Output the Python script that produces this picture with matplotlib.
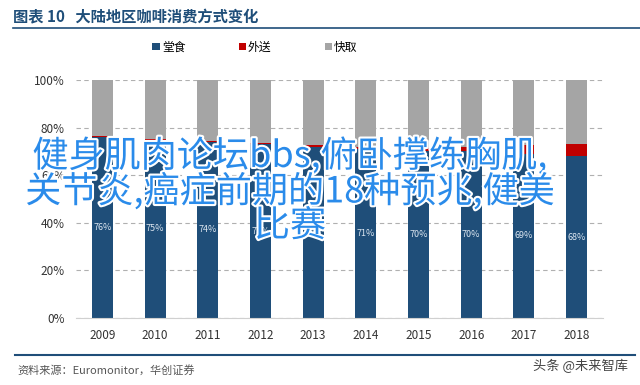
import matplotlib.pyplot as plt
import matplotlib.patheffects as pe
import numpy as np

plt.rcParams['font.family'] = ['Noto Sans CJK SC', 'DejaVu Sans']

years = ["2009", "2010", "2011", "2012", "2013", "2014", "2015", "2016", "2017", "2018"]
dine_in = [76, 75, 74, 73, 72, 71, 70, 70, 69, 68]
delivery = [0.3, 0.3, 0.4, 0.5, 0.8, 1.0, 1.5, 2.0, 3.5, 5.0]
takeaway = [100 - a - b for a, b in zip(dine_in, delivery)]
labels = ["76%", "75%", "74%", "73%", "72%", "71%", "70%", "70%", "69%", "68%"]

c_dine = "#1f4e79"
c_deliv = "#c00000"
c_take = "#a5a5a5"

fig = plt.figure(figsize=(6.4, 3.85), dpi=100)
ax = fig.add_axes([76/640, 1 - 318/385, 527/640, 238/385])

x = np.arange(len(years))
d = np.array(dine_in) / 100
dl = np.array(delivery) / 100
t = np.array(takeaway) / 100
ax.bar(x, d, width=0.4, color=c_dine, label="堂食", zorder=2)
ax.bar(x, dl, width=0.4, bottom=d, color=c_deliv, label="外送", zorder=2)
ax.bar(x, t, width=0.4, bottom=d + dl, color=c_take, label="快取", zorder=2)

for xi, v, lab in zip(x, d, labels):
    ax.text(xi, v / 2, lab, ha="center", va="center", color="#dce6f0", fontsize=6.5, zorder=3)

ax.set_xlim(-0.5, len(years) - 0.5)
ax.set_ylim(0, 1)
ax.set_yticks(np.arange(0, 1.01, 0.2))
ax.set_yticklabels([f"{int(v*100)}%" for v in np.arange(0, 1.01, 0.2)], fontsize=8.5, color="#333333")
ax.set_xticks(x)
ax.set_xticklabels(years, fontsize=8.5, color="#333333")
ax.tick_params(length=0, pad=8)
ax.grid(axis="y", linestyle=(0, (4, 3)), color="#b0b0b0", linewidth=0.8, zorder=0)
for s in ["top", "right", "left"]:
    ax.spines[s].set_visible(False)
ax.spines["bottom"].set_color("#d0d0d0")

ax.legend(loc="center", bbox_to_anchor=(255/640, 1 - 47/385), bbox_transform=fig.transFigure,
          ncol=3, frameon=False, fontsize=8.5, handlelength=0.6, handleheight=0.6,
          handletextpad=0.2, columnspacing=4.5)

# title and rules
fig.text(13/640, 1 - 17/385, "图表 10   大陆地区咖啡消费方式变化", fontsize=11, fontweight="bold",
         color="#1f4e79", va="center", ha="left")
fig.add_artist(plt.Line2D([13/640, 1.0], [1 - 28/385] * 2, color="#1f4e79", linewidth=1.2))
fig.add_artist(plt.Line2D([15/640, 635/640], [1 - 355/385] * 2, color="#1f4e79", linewidth=1.5))
fig.text(17/640, 1 - 370/385, "资料来源：Euromonitor，华创证券", fontsize=8, style="italic",
         color="#555555", va="center", ha="left")
fig.text(628/640, 1 - 366/385, "头条 @未来智库", fontsize=9.5, color="#444444", va="center", ha="right")

# watermark overlay
wm = "健身肌肉论坛bbs,俯卧撑练胸肌,\n关节炎,癌症前期的18种预兆,健美\n比赛"
fig.text(290/640, 1 - 191/385, wm, fontsize=26, color="#2a8bea", ha="center", va="center",
         linespacing=0.93, zorder=10,
         path_effects=[pe.withStroke(linewidth=3, foreground="white")])

fig.savefig("out.png", dpi=100)
